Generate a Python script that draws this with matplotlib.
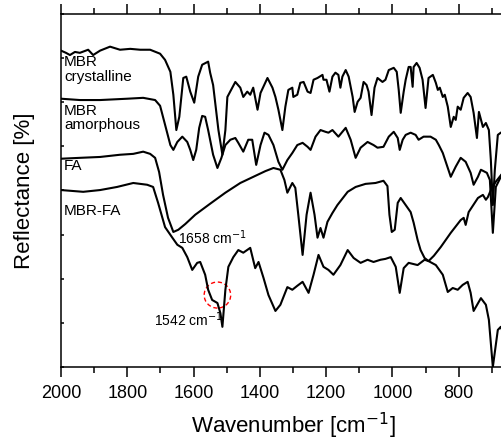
import numpy as np
import matplotlib
matplotlib.use("Agg")
import matplotlib.pyplot as plt
from matplotlib.patches import Ellipse
from matplotlib.ticker import MultipleLocator, FixedLocator, NullFormatter

plt.rcParams['font.family'] = ['Liberation Sans', 'DejaVu Sans']

# spectra, offset vertically (wavenumber in cm-1, reflectance in %)
wn_cryst = [2000, 1985, 1973, 1958, 1943, 1918, 1903, 1882, 1852, 1822, 1791, 1761, 1731, 1701,
            1686, 1670, 1661, 1652, 1643, 1631, 1622, 1610, 1598, 1586, 1574, 1556, 1550, 1541,
            1525, 1513, 1504, 1498, 1474, 1459, 1450, 1438, 1429, 1420, 1407, 1398, 1377, 1362,
            1353, 1344, 1332, 1323, 1314, 1302, 1299, 1287, 1278, 1268, 1256, 1247, 1238, 1226,
            1211, 1208, 1199, 1190, 1181, 1172, 1163, 1157, 1151, 1141, 1132, 1120, 1114, 1105,
            1096, 1087, 1078, 1072, 1063, 1054, 1045, 1030, 1021, 1011, 996, 987, 981, 975, 966,
            960, 951, 945, 939, 936, 927, 918, 909, 900, 891, 878, 869, 863, 857, 848, 842, 833,
            824, 815, 809, 803, 794, 785, 773, 764, 755, 745, 739, 727, 718, 709, 703, 697, 691,
            682, 673, 658]
r_cryst = [71.7, 71.2, 70.7, 71.4, 71.2, 71.9, 70.7, 71.7, 72.6, 71.9, 72.1, 71.9, 71.9, 71.0,
           69.6, 66.9, 61.7, 53.7, 56.7, 65.5, 65.8, 62.4, 59.9, 65.8, 68.5, 69.2, 66.7, 63.9,
           53.7, 48.1, 53.7, 61.2, 64.6, 63.3, 61.2, 62.4, 61.7, 63.3, 58.3, 62.1, 65.5, 63.3,
           61.2, 58.3, 53.7, 59.0, 62.8, 63.3, 61.2, 61.7, 64.4, 64.6, 62.4, 62.1, 65.1, 65.5,
           66.2, 65.1, 65.1, 62.4, 65.8, 66.7, 66.2, 63.3, 65.8, 67.3, 65.8, 61.2, 57.8, 60.1,
           61.0, 64.6, 63.9, 62.4, 57.1, 63.3, 65.5, 64.6, 65.1, 67.3, 67.8, 66.9, 62.8, 57.6, 62.4,
           65.1, 68.0, 68.0, 63.5, 68.0, 68.9, 67.8, 65.1, 58.7, 65.5, 66.2, 64.4, 62.8, 63.3, 61.2, 61.7, 59.0,
           54.4, 56.7, 56.0, 59.0, 58.3, 61.0, 62.1, 61.2, 57.6, 51.9, 57.8, 54.4, 55.3, 53.7, 46.9, 36.7, 44.7,
           52.6, 53.1, 53.7]

wn_amorph = [2000, 1943, 1882, 1800, 1752, 1716, 1701, 1686, 1670, 1661, 1649, 1634, 1619, 1610,
             1601, 1592, 1583, 1574, 1565, 1556, 1541, 1528, 1516, 1504, 1489, 1474, 1465, 1450,
             1435, 1423, 1411, 1398, 1386, 1374, 1359, 1344, 1332, 1317, 1302, 1287, 1271, 1256,
             1247, 1232, 1217, 1202, 1193, 1181, 1163, 1141, 1126, 1111, 1096, 1075, 1057, 1045,
             1027, 1011, 996, 984, 978, 969, 960, 945, 930, 921, 906, 885, 869, 860, 848, 836,
             824, 809, 794, 779, 764, 755, 742, 733, 715, 706, 697, 688, 667, 658]
r_amorph = [60.8, 60.5, 60.5, 60.8, 61.0, 60.5, 59.2, 54.9, 50.3, 49.2, 51.0, 52.2, 51.0, 49.2,
            46.9, 49.2, 54.2, 56.9, 56.7, 53.7, 48.1, 45.1, 47.4, 50.3, 51.5, 51.9, 50.8, 48.8,
            51.5, 51.5, 45.8, 50.3, 53.1, 52.6, 50.3, 46.5, 44.7, 46.9, 48.5, 50.3, 50.8, 49.9,
            49.2, 52.2, 53.7, 53.3, 53.1, 53.7, 52.2, 54.2, 51.5, 47.4, 49.7, 51.0, 50.3, 49.7,
            49.9, 52.2, 53.3, 51.9, 49.2, 51.5, 52.6, 53.1, 52.6, 51.5, 52.2, 52.2, 51.5, 50.3, 48.5, 45.8,
            43.1, 45.4, 47.4, 46.5, 44.0, 41.3, 43.1, 44.7, 44.0, 42.4, 30.4, 40.8, 44.0, 45.1]

wn_fa = [2000, 1943, 1882, 1822, 1782, 1752, 1731, 1716, 1704, 1692, 1677, 1661, 1646, 1625,
         1595, 1550, 1504, 1459, 1414, 1383, 1359, 1338, 1326, 1317, 1302, 1293, 1284, 1271,
         1259, 1247, 1235, 1226, 1217, 1208, 1196, 1181, 1166, 1135, 1111, 1081, 1051, 1027,
         1015, 1009, 1002, 993, 984, 975, 960, 945, 936, 924, 915, 903, 891, 875, 854, 824,
         794, 785, 779, 770, 742, 727, 718, 712, 703, 688, 667, 658]
r_fa = [47.2, 47.4, 47.6, 48.1, 48.3, 48.8, 48.3, 47.4, 44.2, 39.0, 33.8, 30.6, 31.1, 32.4,
        34.5, 37.0, 39.5, 41.7, 43.3, 44.4, 45.1, 44.7, 42.4, 39.5, 41.7, 40.6, 34.5, 25.4,
        34.5, 39.5, 34.5, 29.3, 31.5, 29.3, 32.9, 34.9, 36.7, 39.7, 40.8, 41.5, 41.7, 42.2,
        41.0, 34.5, 30.6, 31.1, 37.2, 38.3, 36.7, 35.1, 32.7, 28.8, 26.5, 24.7, 24.0, 25.2, 27.2, 30.4,
        33.3, 33.8, 32.2, 35.1, 38.3, 39.0, 37.9, 38.5, 40.1, 42.0, 44.0, 44.7]

wn_mix = [2000, 1933, 1882, 1831, 1782, 1740, 1722, 1707, 1686, 1664, 1649, 1634, 1619, 1604,
          1589, 1580, 1565, 1556, 1544, 1528, 1519, 1513, 1504, 1495, 1480, 1465, 1450, 1429,
          1414, 1404, 1389, 1374, 1353, 1338, 1317, 1302, 1287, 1271, 1253, 1238, 1223, 1208,
          1193, 1178, 1157, 1135, 1117, 1096, 1075, 1057, 1036, 1021, 1005, 990, 978, 966, 951,
          924, 903, 891, 869, 848, 833, 818, 803, 788, 773, 764, 755, 733, 718, 709, 697, 682,
          673, 658]
r_mix = [40.1, 39.7, 40.1, 40.8, 41.7, 41.3, 40.8, 37.2, 31.7, 29.3, 27.7, 27.0, 24.9, 22.0,
         23.6, 23.8, 20.9, 17.5, 15.2, 14.5, 12.2, 9.1, 17.5, 22.7, 24.9, 26.5, 25.9, 27.0,
         22.4, 23.8, 20.2, 16.3, 12.7, 14.1, 18.1, 17.5, 18.4, 19.3, 16.8, 20.9, 25.4, 22.7,
         22.0, 20.9, 23.1, 26.5, 24.7, 23.6, 24.3, 23.8, 24.3, 24.5, 24.9, 22.7, 16.8, 22.4, 23.6,
         23.1, 24.3, 24.0, 23.1, 20.9, 17.0, 17.9, 17.5, 18.6, 19.3, 16.8, 12.7, 15.6, 14.1, 10.7, 0.0, 8.4,
         9.1, 6.1]

x_ticks = [2000, 1800, 1600, 1400, 1200, 1000, 800]

fig = plt.figure(figsize=(5.02, 4.43), dpi=100)
ax = fig.add_axes([0.1215, 0.1716, 0.9243, 0.7968])

for wn, r in [(wn_cryst, r_cryst), (wn_amorph, r_amorph), (wn_fa, r_fa), (wn_mix, r_mix)]:
    ax.plot(wn, r, color='black', lw=1.5, solid_joinstyle='round')

ax.set_xlim(2000, 600)
ax.set_ylim(0, 80)
ax.xaxis.set_major_locator(FixedLocator(x_ticks))
ax.xaxis.set_minor_locator(MultipleLocator(100))
ax.yaxis.set_major_locator(MultipleLocator(10))
ax.yaxis.set_major_formatter(NullFormatter())
ax.tick_params(axis='x', which='major', direction='out', length=7, width=1.1,
               labelsize=13, pad=6)
ax.tick_params(axis='x', which='minor', direction='out', length=4, width=1.1)
ax.tick_params(axis='y', direction='in', length=2, width=1.1)
ax.tick_params(axis='x', which='both', top=True)
for s in ax.spines.values():
    s.set_linewidth(1.1)

ax.set_xlabel('Wavenumber [cm$^{-1}$]', fontsize=16, labelpad=6)
ax.set_ylabel('Reflectance [%]', fontsize=16, labelpad=15)

# sample labels
ax.text(1991, 70.6, 'MBR\ncrystalline', fontsize=11, va='top', ha='left', linespacing=1.05)
ax.text(1991, 59.7, 'MBR\namorphous', fontsize=11, va='top', ha='left', linespacing=1.05)
ax.text(1991, 47.2, 'FA', fontsize=11, va='top', ha='left')
ax.text(1991, 37.0, 'MBR-FA', fontsize=11, va='top', ha='left')

# band markers
ax.text(1646, 29.3, '1658 cm$^{-1}$', fontsize=10, va='center', ha='left')
ax.text(1719, 10.7, '1542 cm$^{-1}$', fontsize=10, va='center', ha='left')
ax.add_patch(Ellipse((1528, 16.3), 80, 5.9, fill=False, edgecolor='red',
                     linestyle=(0, (3, 2)), lw=1.0))

fig.savefig('out.png', dpi=100)
